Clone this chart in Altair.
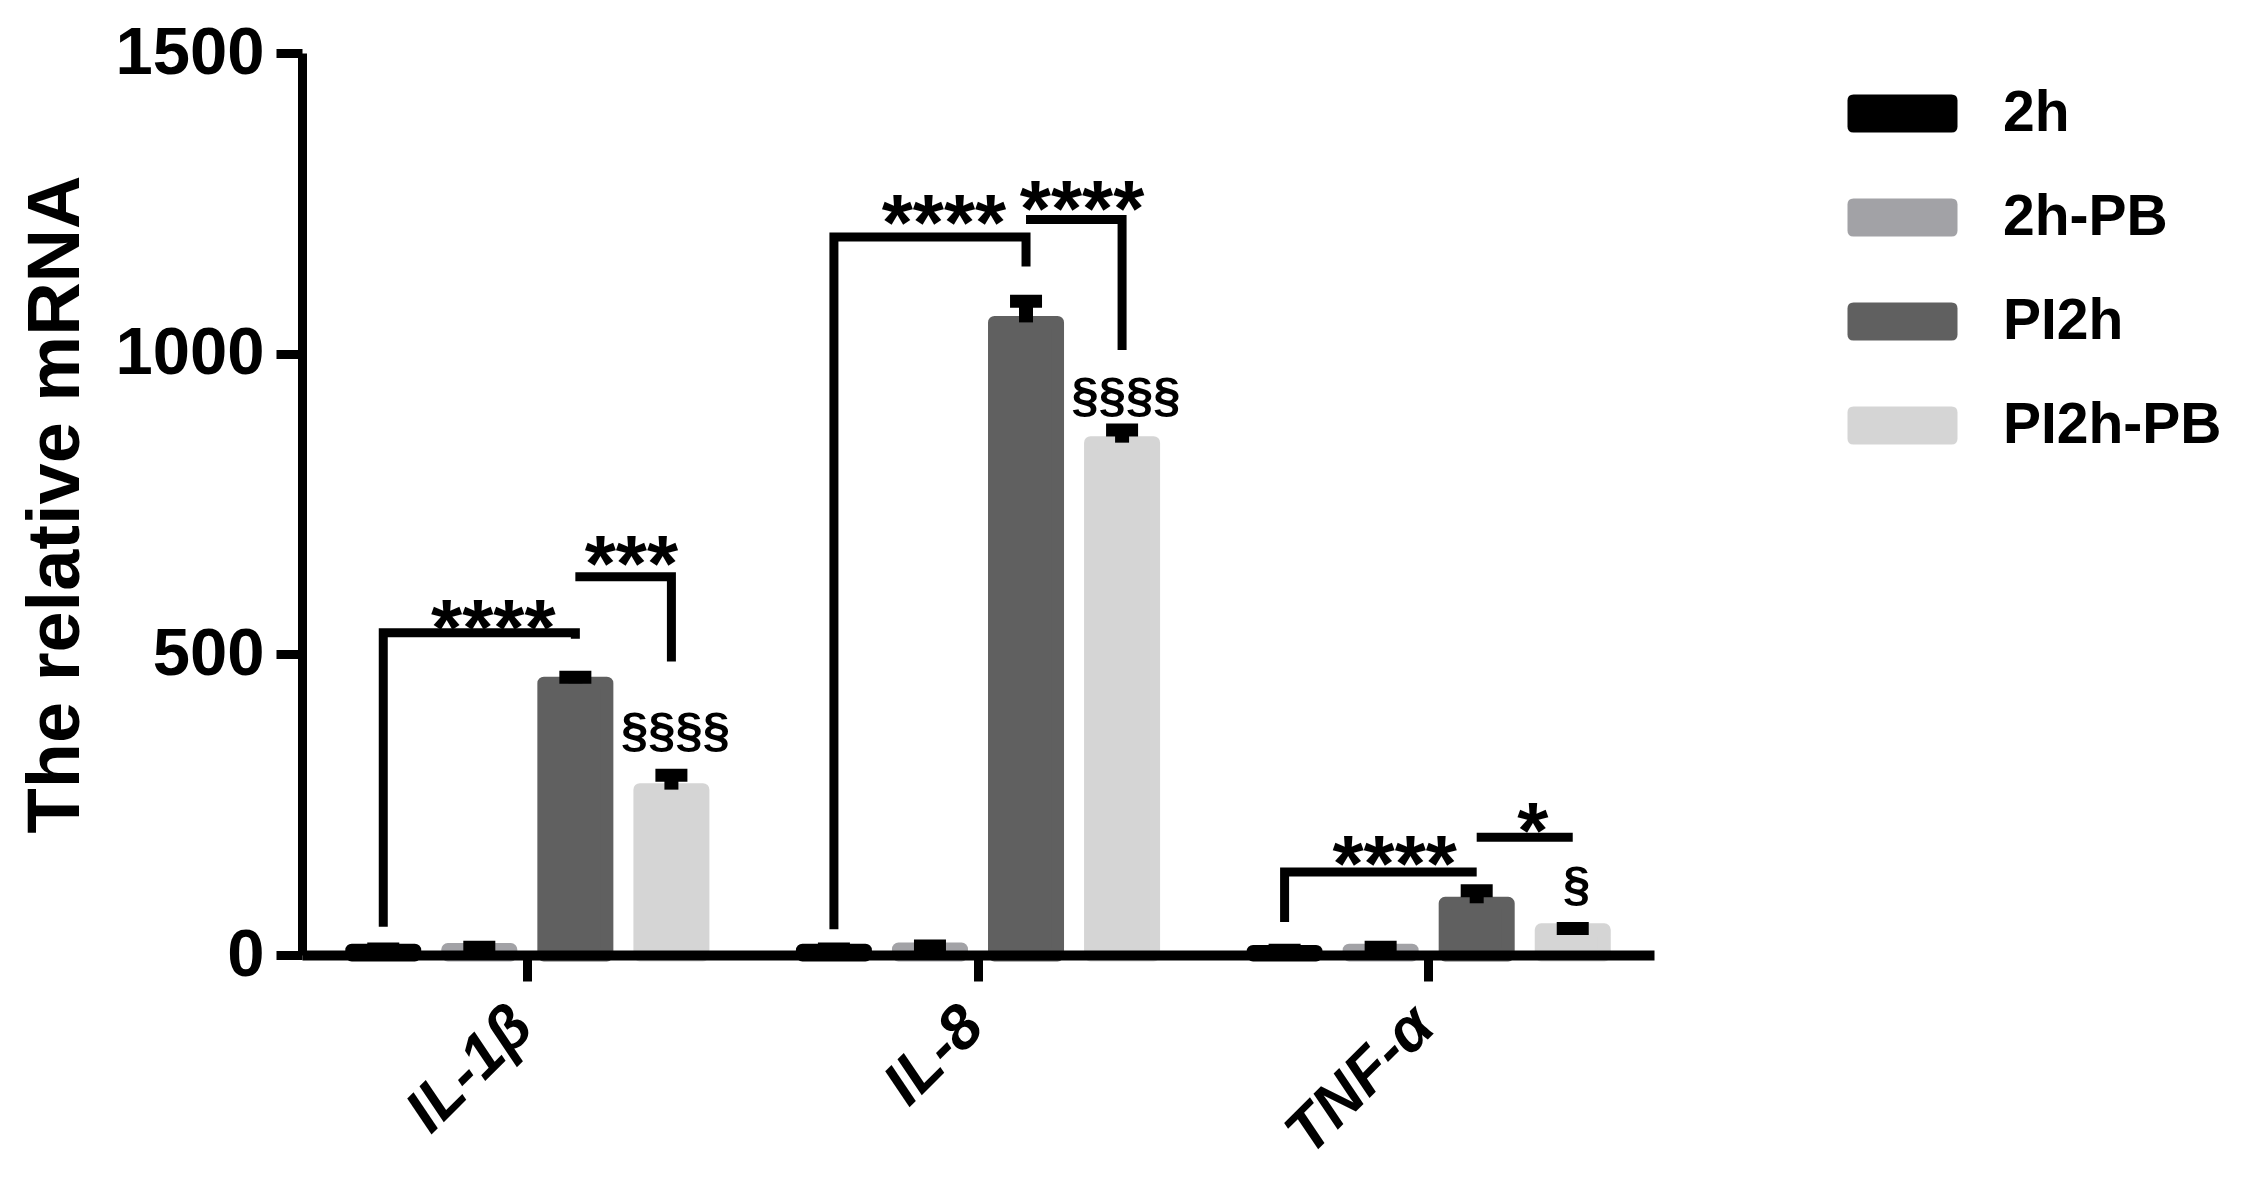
import altair as alt
import pandas as pd

# ---------------- data ----------------
genes = ["IL-1β", "IL-8", "TNF-α"]
series = ["2h", "2h-PB", "PI2h", "PI2h-PB"]
colors = ["#000000", "#a2a2a6", "#606060", "#d5d5d5"]

mean_2h = [8, 8, 6]
sem_2h = [2, 2, 2]
mean_2h_pb = [9, 10, 8]
sem_2h_pb = [4, 5, 5]
mean_pi2h = [452, 1052, 86]
sem_pi2h = [10, 35, 21]
mean_pi2h_pb = [275, 852, 42]
sem_pi2h_pb = [24, 21, 2]

y_ticks = [0, 500, 1000, 1500]

# significance brackets: gene, path of (series, y)
bracket_gene = ["IL-1β", "IL-1β", "IL-8", "IL-8", "TNF-α", "TNF-α"]
bracket_series = [
    ["2h", "2h", "PI2h", "PI2h"],
    ["PI2h", "PI2h-PB", "PI2h-PB"],
    ["2h", "2h", "PI2h", "PI2h"],
    ["PI2h", "PI2h-PB", "PI2h-PB"],
    ["2h", "2h", "PI2h"],
    ["PI2h", "PI2h-PB"],
]
bracket_y = [
    [47, 536, 536, 526],
    [629, 629, 488],
    [43, 1194, 1194, 1145],
    [1223, 1223, 1006],
    [55, 138, 138],
    [196, 196],
]

# stars over the 2h vs PI2h brackets (anchored near the 2h-PB bar)
star_gene = ["IL-1β", "IL-8", "TNF-α"]
star_text = ["****", "****", "****"]
star_y = [574, 1248, 181]

# stars over the PI2h vs PI2h-PB brackets
pair_gene = ["IL-1β", "IL-8", "TNF-α"]
pair_text = ["***", "****", "*"]
pair_y = [680, 1271, 236]

# section marks over PI2h-PB bars
sect_gene = ["IL-1β", "IL-8", "TNF-α"]
sect_text = ["§§§§", "§§§§", "§"]
sect_y = [373, 930, 116]

# ---------------- tables ----------------
means = [mean_2h, mean_2h_pb, mean_pi2h, mean_pi2h_pb]
sems = [sem_2h, sem_2h_pb, sem_pi2h, sem_pi2h_pb]
rows = []
for si, s in enumerate(series):
    for gi, g in enumerate(genes):
        m = means[si][gi]
        e = sems[si][gi]
        rows.append({"gene": g, "series": s, "mean": m, "top": m + e})
bars_df = pd.DataFrame(rows)

lrows = []
for bi, g in enumerate(bracket_gene):
    for oi, (s, y) in enumerate(zip(bracket_series[bi], bracket_y[bi])):
        lrows.append({"bid": bi, "ord": oi, "gene": g, "series": s, "y": y})
lines_df = pd.DataFrame(lrows)

star_df = pd.DataFrame({"gene": star_gene, "series": "2h-PB", "label": star_text, "y": star_y})
pair_df = pd.DataFrame({"gene": pair_gene, "series": "PI2h", "label": pair_text, "y": pair_y})
sect_df = pd.DataFrame({"gene": sect_gene, "series": "PI2h-PB", "label": sect_text, "y": sect_y})

FONT = "Liberation Sans"

X = alt.X(
    "gene:N",
    sort=genes,
    scale=alt.Scale(domain=genes, paddingInner=0, paddingOuter=0),
    axis=alt.Axis(
        title=None,
        labelAngle=-45,
        labelAlign="right",
        labelBaseline="top",
        labelFont=FONT,
        labelFontSize=62,
        labelFontWeight="bold",
        labelFontStyle="italic",
        labelColor="black",
        labelPadding=14,
        labelOffset=-26,
        labelLimit=600,
        tickSize=26,
        tickWidth=9,
        tickColor="black",
        domainColor="black",
        domainWidth=10,
        zindex=1,
    ),
)
XO = alt.XOffset(
    "series:N",
    sort=series,
    scale=alt.Scale(domain=series, paddingInner=0.344, paddingOuter=0.518),
)
Y = alt.Y(
    "mean:Q",
    scale=alt.Scale(domain=[0, 1500], nice=False, zero=True),
    axis=alt.Axis(
        values=y_ticks,
        format="d",
        title="The relative mRNA",
        titleFont=FONT,
        titleFontSize=74,
        titleFontWeight="bold",
        titleColor="black",
        titlePadding=20,
        labelFont=FONT,
        labelFontSize=67,
        labelFontWeight="bold",
        labelColor="black",
        labelPadding=12,
        tickSize=26,
        tickWidth=9,
        tickColor="black",
        domainColor="black",
        domainWidth=9,
        grid=False,
        zindex=1,
    ),
)

symbol_path = (
    "M-2.58,-1H2.58Q2.895,-1 2.895,-0.68V0.68Q2.895,1 2.58,1H-2.58"
    "Q-2.895,1 -2.895,0.68V-0.68Q-2.895,-1 -2.58,-1Z"
)

bars = alt.Chart(bars_df).mark_bar(strokeWidth=13, strokeJoin="round").encode(
    x=X,
    xOffset=XO,
    y=Y,
    color=alt.Color(
        "series:N",
        sort=series,
        scale=alt.Scale(domain=series, range=colors),
        legend=alt.Legend(
            title=None,
            orient="none",
            legendX=1572,
            legendY=32,
            direction="vertical",
            symbolType=symbol_path,
            symbolSize=1444,
            symbolStrokeWidth=0,
            symbolOpacity=1,
            labelFont=FONT,
            labelFontSize=57,
            labelFontWeight="bold",
            labelColor="black",
            labelOffset=72,
            labelLimit=600,
            rowPadding=46,
            padding=0,
        ),
    ),
    stroke=alt.Stroke(
        "series:N", sort=series, scale=alt.Scale(domain=series, range=colors), legend=None
    ),
)

stems = alt.Chart(bars_df).mark_rule(color="black", strokeWidth=14).encode(
    x=X, xOffset=XO, y=alt.Y("mean:Q"), y2="top:Q"
)
caps = alt.Chart(bars_df).mark_tick(color="black", thickness=13, size=32, opacity=1).encode(
    x=X, xOffset=XO, y=alt.Y("top:Q")
)

brackets = alt.Chart(lines_df).mark_line(
    color="black", strokeWidth=9, strokeCap="butt", strokeJoin="miter"
).encode(x=X, xOffset=XO, y=alt.Y("y:Q"), detail="bid:N", order="ord:Q")

star_fs = 80
stars = alt.Chart(star_df).mark_text(
    font=FONT, fontSize=star_fs, fontWeight="bold", color="black",
    align="center", baseline="middle", dx=14, dy=round(0.26 * star_fs),
).encode(x=X, xOffset=XO, y=alt.Y("y:Q"), text="label:N")

pairs = alt.Chart(pair_df).mark_text(
    font=FONT, fontSize=star_fs, fontWeight="bold", color="black",
    align="center", baseline="middle", dx=56, dy=round(0.26 * star_fs),
).encode(x=X, xOffset=XO, y=alt.Y("y:Q"), text="label:N")

sects = alt.Chart(sect_df).mark_text(
    font=FONT, fontSize=49, fontWeight="bold", color="black",
    align="center", baseline="middle", dx=4,
).encode(x=X, xOffset=XO, y=alt.Y("y:Q"), text="label:N")

chart = (
    alt.layer(bars, stems, caps, brackets, stars, pairs, sects)
    .properties(
        width=1352,
        height=902,
        autosize=alt.AutoSizeParams(type="none"),
        padding={"left": 294, "top": 45, "right": 579, "bottom": 210},
        background="white",
    )
    .configure_view(stroke=None)
)

chart.save("out.html", embed_options={"renderer": "svg", "actions": False})
